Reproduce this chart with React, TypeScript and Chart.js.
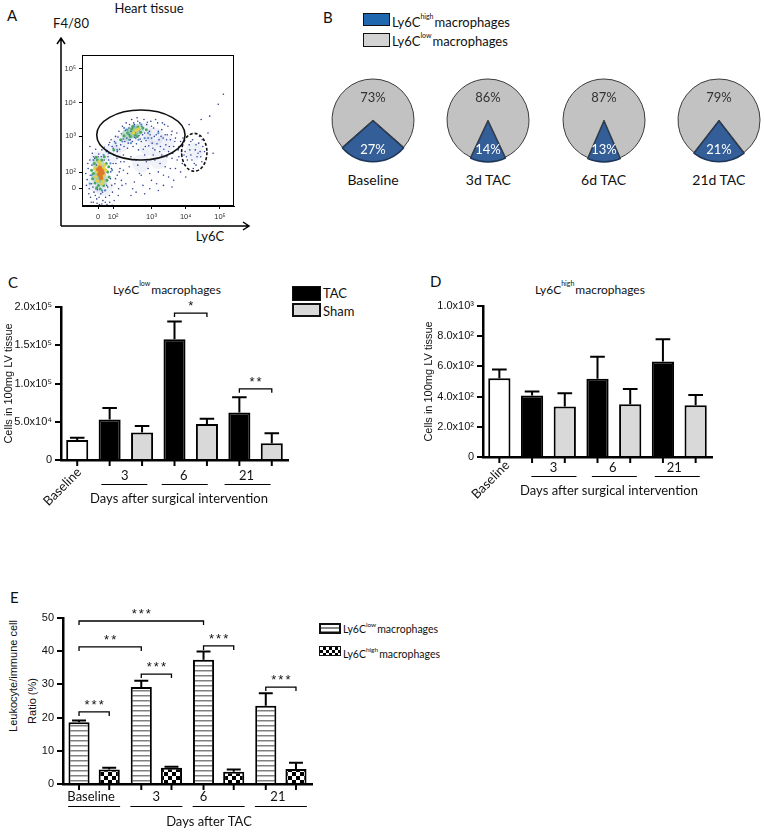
import React, { useEffect, useRef } from 'react';
import { Chart, registerables } from 'chart.js';

Chart.register(...registerables);

const SANS = '"Liberation Sans", Arial, sans-serif';
const CAL = 'Lato, "Open Sans", sans-serif';
const CAL_W = 400;

// ---------------- Panel A : flow cytometry (biexponential decade units) ----------------
const A_X_RANGE = [0.97, 5.41];
const A_Y_RANGE = [0.94, 5.41];
const A_X_TICKS = [1.44, 1.88, 3, 4, 5];
const A_Y_TICKS = [1.47, 1.94, 3, 4, 5];
const A_TICK_LABELS = ['0', '10²', '10³', '10⁴', '10⁵'];
// gates: [centerX, centerY, radiusX, radiusY]
const A_GATE_LOW = [2.69, 3.04, 1.29, 0.74];
const A_GATE_HIGH = [4.25, 2.53, 0.37, 0.56];

const A_EVENTS_PEAK = [[1.5, 1.95], [1.47, 1.88], [1.55, 2.0], [1.52, 1.82], [1.44, 2.02], [1.58, 1.92], [1.49, 2.08], [1.53, 1.76]];
const A_EVENTS_HIGH = [[1.4, 1.95], [1.6, 2.05], [1.45, 2.12], [1.55, 1.75], [1.38, 1.8], [1.62, 1.85], [1.5, 2.18], [1.35, 2.05], [1.58, 1.68], [1.66, 2.0], [1.42, 1.68], [1.63, 2.15], [1.47, 2.25], [1.56, 1.6], [2.55, 3.18], [2.48, 3.1], [2.62, 3.22]];
const A_EVENTS_MID = [[1.3, 1.9], [1.33, 2.2], [1.42, 2.3], [1.55, 2.3], [1.68, 2.2], [1.72, 1.95], [1.7, 1.7], [1.6, 1.55], [1.45, 1.55], [1.35, 1.62], [1.28, 1.75], [1.5, 1.45], [1.75, 2.1], [1.25, 2.0], [1.38, 2.38], [1.62, 2.4], [1.76, 1.8], [1.4, 1.48],
  [2.3, 3.1], [2.42, 3.22], [2.6, 3.28], [2.68, 3.12], [2.38, 3.0], [2.2, 3.02], [2.75, 3.25], [2.52, 3.05], [2.85, 3.2], [2.1, 2.9], [1.9, 2.6], [2.45, 3.3], [2.58, 3.0]];
const A_EVENTS_CYAN = [[1.3, 2.3], [1.6, 2.45], [1.75, 2.5], [1.8, 2.2], [1.38, 1.45], [1.65, 1.4], [1.25, 1.85], [2.0, 2.6], [2.15, 2.85], [2.28, 3.2], [2.5, 3.3], [2.7, 3.35], [2.9, 3.1], [2.62, 2.9], [2.4, 2.8], [3.0, 2.95], [3.2, 3.1], [2.2, 3.25], [1.95, 2.8], [2.8, 2.95], [1.2, 1.6], [1.85, 2.0], [1.55, 1.4], [2.35, 2.9]];
const A_EVENTS_LOW = [
  [1.12, 1.72], [1.15, 2.05], [1.18, 1.45], [1.2, 2.3], [1.22, 1.2], [1.25, 1.6], [1.27, 2.5], [1.3, 1.05], [1.32, 1.35], [1.34, 2.35], [1.37, 2.62], [1.4, 1.15], [1.42, 1.42], [1.46, 2.48], [1.48, 0.98], [1.52, 1.3], [1.55, 2.6], [1.58, 1.1], [1.6, 2.4], [1.63, 1.4], [1.66, 1.2], [1.68, 2.55], [1.72, 1.5], [1.75, 2.3], [1.78, 1.05], [1.8, 1.75], [1.83, 2.05], [1.86, 1.35], [1.9, 2.45], [1.93, 1.6], [1.96, 2.2], [2.0, 1.85], [2.04, 1.45], [2.08, 2.05], [2.12, 1.7], [1.2, 2.7],
  [1.75, 2.75], [1.82, 2.9], [1.88, 2.65], [1.95, 3.0], [2.0, 2.55], [2.05, 3.15], [2.1, 2.75], [2.15, 3.3], [2.18, 2.45], [2.22, 2.85], [2.26, 3.4], [2.3, 2.65], [2.34, 3.25], [2.38, 2.9], [2.42, 3.5], [2.46, 2.7], [2.5, 3.35], [2.54, 2.95], [2.58, 3.55], [2.62, 2.6], [2.66, 3.4], [2.7, 2.85], [2.74, 3.05], [2.78, 3.5], [2.82, 2.7], [2.86, 3.35], [2.9, 2.95], [2.94, 3.15], [2.98, 3.45], [3.02, 2.8], [3.06, 3.25], [3.1, 2.6], [3.14, 3.05], [3.18, 3.4], [3.22, 2.9], [3.26, 2.7], [3.3, 3.2], [3.34, 2.95], [3.38, 3.35], [3.42, 2.75], [3.46, 3.05], [3.5, 2.55], [3.55, 2.9], [3.6, 3.15], [3.65, 2.7], [3.7, 2.95], [3.78, 2.6], [3.85, 2.85], [2.52, 3.1], [2.35, 3.05], [2.65, 3.2], [2.45, 3.25],
  [2.2, 2.25], [2.3, 1.9], [2.4, 2.4], [2.5, 1.65], [2.6, 2.15], [2.7, 1.85], [2.8, 2.45], [2.9, 2.05], [3.0, 1.7], [3.1, 2.3], [3.2, 1.95], [3.3, 2.45], [3.4, 2.1], [3.5, 1.8], [3.6, 2.35], [3.7, 2.05], [3.8, 2.4], [3.9, 2.2], [2.55, 1.35], [2.95, 1.45], [3.35, 1.55],
  [3.98, 2.55], [4.05, 2.3], [4.1, 2.75], [4.15, 2.45], [4.2, 2.9], [4.25, 2.2], [4.28, 2.6], [4.33, 2.4], [4.38, 2.8], [4.42, 2.55], [4.47, 2.25], [4.5, 2.7], [4.22, 2.05], [4.4, 3.0],
  [4.1, 3.35], [4.45, 3.5], [4.7, 3.6], [4.95, 3.95], [5.1, 4.25], [4.65, 3.1], [4.8, 2.5]];
const A_EVENTS_LOW2 = [
  [1.62, 2.68], [1.7, 2.58], [1.78, 2.82], [1.85, 2.7], [1.92, 2.85], [1.98, 2.72], [2.02, 2.98], [2.07, 2.62], [2.12, 3.08], [2.17, 2.92], [2.2, 2.7], [2.24, 3.18], [2.28, 2.95], [2.32, 2.8], [2.36, 3.35], [2.4, 3.15], [2.44, 2.85], [2.48, 3.4], [2.5, 2.98], [2.56, 2.78], [2.6, 3.45], [2.63, 3.02], [2.67, 2.92], [2.72, 3.3], [2.76, 2.62], [2.8, 3.1], [2.84, 2.88], [2.88, 3.42], [2.92, 2.72], [2.96, 3.05], [3.0, 3.3], [3.04, 2.65], [3.08, 3.0], [3.12, 3.5], [3.16, 2.78], [3.2, 3.15], [3.24, 2.55], [3.28, 3.0], [3.32, 3.4], [3.36, 2.62], [3.4, 3.05], [3.44, 2.9], [3.48, 3.3], [3.52, 2.7], [3.58, 3.05], [3.62, 2.5], [3.68, 2.85], [3.74, 3.1], [3.8, 2.7], [3.88, 2.5], [3.92, 2.95],
  [1.08, 1.9], [1.1, 1.55], [1.14, 2.2], [1.17, 1.3], [1.21, 1.85], [1.24, 1.05], [1.26, 2.15], [1.29, 1.5], [1.31, 2.4], [1.36, 1.25], [1.39, 2.15], [1.41, 1.02], [1.44, 2.4], [1.47, 1.2], [1.53, 2.4], [1.57, 1.35], [1.62, 2.3], [1.65, 1.05], [1.69, 1.55], [1.73, 2.4], [1.77, 1.25], [1.81, 1.95], [1.84, 1.55], [1.88, 2.2], [1.91, 1.1], [1.95, 1.75], [1.99, 2.35], [2.03, 1.25], [2.06, 1.95], [2.1, 2.25], [2.14, 1.55], [2.18, 2.0], [1.7, 0.98], [1.55, 1.0], [1.85, 0.96],
  [2.25, 1.6], [2.35, 2.1], [2.45, 1.45], [2.55, 2.3], [2.65, 1.9], [2.75, 1.55], [2.85, 2.25], [2.95, 1.9], [3.05, 2.45], [3.15, 1.6], [3.25, 2.2], [3.35, 1.85], [3.45, 2.4], [3.55, 2.05], [3.65, 1.7], [3.75, 2.3], [3.85, 1.95], [3.95, 2.45], [2.4, 1.25], [2.8, 1.3], [3.2, 1.4], [3.6, 1.5], [4.0, 1.8],
  [4.02, 2.4], [4.12, 2.6], [4.18, 2.3], [4.3, 2.75], [4.36, 2.5], [4.44, 2.4], [4.3, 2.15], [4.48, 2.9], [4.55, 2.55], [4.15, 2.85]];
const A_DENSITY_LOW = [[1.5, 1.9], [1.45, 2.3], [1.6, 1.5], [1.4, 1.6], [1.85, 2.5], [2.1, 2.8], [2.4, 3.05], [2.75, 3.15], [3.1, 3.0], [2.9, 2.7], [3.4, 2.8], [2.7, 2.2], [3.2, 2.3], [4.25, 2.55]];
const A_DENSITY_MID = [[1.5, 1.95], [1.45, 2.2], [1.55, 1.7], [1.42, 1.8], [2.45, 3.12], [2.6, 3.2], [2.3, 3.05]];

// ---------------- Panel B : pies ----------------
const PIE_LABELS = ['Baseline', '3d TAC', '6d TAC', '21d TAC'];
const PIE_HIGH = [27, 14, 13, 21];
const PIE_LOW = [73, 86, 87, 79];

// ---------------- Panel C : Ly6C low cells ----------------
const DAYS = ['3', '6', '21'];
const C_BASELINE_MEAN = 26000;
const C_BASELINE_SEM = 3000;
const C_TAC_MEAN = [53000, 158000, 62000];
const C_TAC_SEM = [15000, 23000, 20000];
const C_SHAM_MEAN = [36000, 47000, 22000];
const C_SHAM_SEM = [8500, 7000, 13000];
const C_Y_TICK_LABELS = ['0', '5.0x10⁴', '1.0x10⁵', '1.5x10⁵', '2.0x10⁵'];
const C_BRACKETS = [
  { from: 3, to: 4, y: 192000, text: '*' },
  { from: 5, to: 6, y: 93000, text: '**' },
];

// ---------------- Panel D : Ly6C high cells ----------------
const D_BASELINE_MEAN = 521;
const D_BASELINE_SEM = 59;
const D_TAC_MEAN = [407, 519, 633];
const D_TAC_SEM = [26, 145, 147];
const D_SHAM_MEAN = [334, 349, 343];
const D_SHAM_SEM = [88, 101, 68];
const D_Y_TICK_LABELS = ['0', '2.0x10²', '4.0x10²', '6.0x10²', '8.0x10²', '1.0x10³'];

// ---------------- Panel E : ratio ----------------
const E_GROUPS = ['Baseline', '3', '6', '21'];
const E_LOW_MEAN = [18.6, 29.2, 37.4, 23.6];
const E_LOW_SEM = [0.5, 1.9, 2.5, 3.7];
const E_HIGH_MEAN = [4.4, 4.9, 3.7, 4.5];
const E_HIGH_SEM = [0.5, 0.3, 0.7, 1.9];
// [dataset, index] references
const E_BRACKETS = [
  { from: [0, 0], to: [1, 0], y: 21.7, text: '***' },
  { from: [0, 0], to: [0, 1], y: 41.3, text: '**' },
  { from: [0, 0], to: [0, 2], y: 49.1, text: '***' },
  { from: [0, 1], to: [1, 1], y: 33.1, text: '***' },
  { from: [0, 2], to: [1, 2], y: 41.6, text: '***' },
  { from: [0, 3], to: [1, 3], y: 29.2, text: '***' },
];

// ======================================================================

const BAR_FILL: Record<string, string> = { base: '#ffffff', tac: '#000000', sham: '#d9d9d9' };

function buildSeries(bm: number, bs: number, tm: number[], ts: number[], sm: number[], ss: number[]) {
  const labels = ['Baseline'];
  const values = [bm];
  const sems = [bs];
  const kinds = ['base'];
  tm.forEach((v, i) => {
    labels.push('TAC ' + DAYS[i], 'Sham ' + DAYS[i]);
    values.push(v, sm[i]);
    sems.push(ts[i], ss[i]);
    kinds.push('tac', 'sham');
  });
  return { labels, values, sems, kinds };
}

const gatesPlugin = {
  id: 'gates',
  afterDatasetsDraw(chart: any) {
    const { ctx, chartArea: ca } = chart;
    const xs = chart.scales.x;
    const ys = chart.scales.y;
    ctx.save();
    [A_GATE_LOW, A_GATE_HIGH].forEach((g, gi) => {
      const cx = xs.getPixelForValue(g[0]);
      const cy = ys.getPixelForValue(g[1]);
      const rx = Math.abs(xs.getPixelForValue(g[0] + g[2]) - cx);
      const ry = Math.abs(ys.getPixelForValue(g[1] + g[3]) - cy);
      ctx.beginPath();
      ctx.setLineDash(gi === 1 ? [3, 2] : []);
      ctx.lineWidth = 1.6;
      ctx.strokeStyle = '#111';
      ctx.ellipse(cx, cy, rx, ry, 0, 0, Math.PI * 2);
      ctx.stroke();
    });
    ctx.setLineDash([]);
    ctx.lineWidth = 1;
    ctx.strokeStyle = '#000';
    ctx.strokeRect(ca.left + 0.5, ca.top + 0.5, ca.width - 1, ca.height - 1);
    const ax = ca.left - 21;
    const ay = ca.bottom + 20;
    ctx.lineWidth = 1.5;
    ctx.beginPath();
    ctx.moveTo(ax, ay);
    ctx.lineTo(ax, ca.top - 17);
    ctx.moveTo(ax, ay);
    ctx.lineTo(ca.right + 15, ay);
    ctx.moveTo(ax - 4, ca.top - 11);
    ctx.lineTo(ax, ca.top - 17);
    ctx.lineTo(ax + 4, ca.top - 11);
    ctx.moveTo(ca.right + 9, ay - 4);
    ctx.lineTo(ca.right + 15, ay);
    ctx.lineTo(ca.right + 9, ay + 4);
    ctx.stroke();
    ctx.restore();
  },
};

function configA() {
  const pts = (a: number[][]) => a.map(([x, y]) => ({ x, y }));
  const tickAxis = (ticks: number[], fitKey: 'height' | 'width', fit: number, range: number[]) => ({
    type: 'linear',
    min: range[0],
    max: range[1],
    afterBuildTicks: (s: any) => {
      s.ticks = ticks.map((value) => ({ value }));
    },
    ticks: {
      autoSkip: false,
      maxRotation: 0,
      font: { family: SANS, size: 7.5 },
      color: '#333',
      padding: 3,
      callback: (_v: any, i: number) => A_TICK_LABELS[i],
    },
    grid: { drawOnChartArea: false, tickLength: 3, color: '#000', lineWidth: 1 },
    border: { color: '#000', width: 1 },
    afterFit: (s: any) => {
      s[fitKey] = fit;
    },
  });
  const dot = (data: number[][], color: string, r: number) => ({ data: pts(data), backgroundColor: color, pointRadius: r, borderWidth: 0 });
  return {
    type: 'scatter',
    data: {
      datasets: [
        dot(A_EVENTS_PEAK, '#e0782a', 2),
        dot(A_EVENTS_HIGH, '#e3d143', 1.8),
        dot(A_EVENTS_MID, '#4aa85c', 1.5),
        dot(A_EVENTS_CYAN, '#4f8fc9', 1.1),
        dot(A_EVENTS_LOW, '#2e3d95', 0.8),
        dot(A_EVENTS_LOW2, '#3a4aa0', 0.8),
        dot(A_DENSITY_MID, 'rgba(70,165,110,0.3)', 6),
        dot(A_DENSITY_LOW, 'rgba(105,125,200,0.1)', 9),
      ],
    },
    options: {
      responsive: false,
      animation: false,
      events: [],
      layout: { padding: { top: 25, right: 26, left: 0, bottom: 0 } },
      plugins: { legend: { display: false }, tooltip: { enabled: false } },
      scales: {
        x: tickAxis(A_X_TICKS, 'height', 39, A_X_RANGE),
        y: tickAxis(A_Y_TICKS, 'width', 42, A_Y_RANGE),
      },
    },
    plugins: [gatesPlugin],
  };
}

const pieLabelPlugin = {
  id: 'pieLabels',
  afterDatasetsDraw(chart: any) {
    const { ctx } = chart;
    const meta = chart.getDatasetMeta(0);
    const data = chart.data.datasets[0].data;
    ctx.save();
    ctx.font = `${CAL_W} 13px ${CAL}`;
    ctx.textAlign = 'center';
    ctx.textBaseline = 'middle';
    meta.data.forEach((arc: any, i: number) => {
      const { x, y, startAngle, endAngle, outerRadius } = arc.getProps(['x', 'y', 'startAngle', 'endAngle', 'outerRadius'], true);
      const mid = (startAngle + endAngle) / 2;
      const f = i === 0 ? 0.73 : 0.55;
      ctx.fillStyle = i === 0 ? '#ffffff' : '#333333';
      ctx.fillText(data[i] + '%', x + Math.cos(mid) * outerRadius * f, y + Math.sin(mid) * outerRadius * f);
    });
    ctx.restore();
  },
};

function configPie(high: number, low: number) {
  return {
    type: 'pie',
    data: {
      labels: ['Ly6C high macrophages', 'Ly6C low macrophages'],
      datasets: [
        {
          data: [high, low],
          backgroundColor: ['#335e97', '#c2c2c2'],
          borderColor: ['#1d3558', '#3c3c3c'],
          borderWidth: [1.5, 1],
          offset: [3, 0],
        },
      ],
    },
    options: {
      responsive: false,
      animation: false,
      events: [],
      radius: 41,
      rotation: 180 * (1 - high / (high + low)),
      plugins: { legend: { display: false }, tooltip: { enabled: false } },
    },
    plugins: [pieLabelPlugin],
  };
}

type Ref2 = number[];
interface DecorCfg {
  sem: (number | null)[][];
  brackets: { from: Ref2; to: Ref2; y: number; text: string }[];
  groups: { text: string; bars: Ref2[] }[];
  labelDy: number;
  lineDy: number;
  labelDx: number[];
  lineDx: number[];
  lineHalf: number;
  rotated?: { text: string; bar: Ref2; dx: number; dy: number };
  title: { text: string; dx: number; dy: number };
}

function decorPlugin(cfg: DecorCfg) {
  return {
    id: 'decor',
    afterDatasetsDraw(chart: any) {
      const { ctx, chartArea: ca } = chart;
      const ys = chart.scales.y;
      const bar = (r: Ref2) => chart.getDatasetMeta(r[0]).data[r[1]];
      ctx.save();
      ctx.strokeStyle = '#000';
      ctx.fillStyle = '#111';
      chart.data.datasets.forEach((ds: any, d: number) => {
        chart.getDatasetMeta(d).data.forEach((el: any, i: number) => {
          const v = ds.data[i];
          const s = cfg.sem[d][i];
          ctx.lineWidth = 2;
          ctx.beginPath();
          ctx.moveTo(el.x, ca.bottom);
          ctx.lineTo(el.x, ca.bottom + 6);
          ctx.stroke();
          if (v == null || s == null) return;
          const y0 = ys.getPixelForValue(v);
          const y1 = ys.getPixelForValue(v + s);
          const half = el.width * 0.33;
          ctx.beginPath();
          ctx.moveTo(el.x, y0);
          ctx.lineTo(el.x, y1);
          ctx.moveTo(el.x - half, y1);
          ctx.lineTo(el.x + half, y1);
          ctx.stroke();
        });
      });
      ctx.lineWidth = 1.3;
      cfg.brackets.forEach((b) => {
        const x0 = bar(b.from).x;
        const x1 = bar(b.to).x;
        const y = ys.getPixelForValue(b.y);
        ctx.beginPath();
        ctx.moveTo(x0, y + 4);
        ctx.lineTo(x0, y);
        ctx.lineTo(x1, y);
        ctx.lineTo(x1, y + 4);
        ctx.stroke();
        ctx.font = `13px ${SANS}`;
        ctx.textAlign = 'center';
        ctx.textBaseline = 'alphabetic';
        (ctx as any).letterSpacing = '2px';
        ctx.fillText(b.text, (x0 + x1) / 2 + 1, y - 3);
        (ctx as any).letterSpacing = '0px';
      });
      ctx.font = `${CAL_W} 13px ${CAL}`;
      ctx.textAlign = 'center';
      ctx.textBaseline = 'middle';
      ctx.lineWidth = 1;
      cfg.groups.forEach((g, gi) => {
        const els = g.bars.map(bar);
        const left = Math.min(...els.map((e: any) => e.x));
        const right = Math.max(...els.map((e: any) => e.x));
        const mid = (left + right) / 2;
        ctx.fillText(g.text, mid + cfg.labelDx[gi], ca.bottom + cfg.labelDy);
        const ly = Math.round(ca.bottom + cfg.lineDy) + 0.5;
        ctx.beginPath();
        ctx.moveTo(mid + cfg.lineDx[gi] - cfg.lineHalf, ly);
        ctx.lineTo(mid + cfg.lineDx[gi] + cfg.lineHalf, ly);
        ctx.stroke();
      });
      if (cfg.rotated) {
        const el = bar(cfg.rotated.bar);
        ctx.save();
        ctx.translate(el.x + cfg.rotated.dx, ca.bottom + cfg.rotated.dy);
        ctx.rotate(-Math.PI / 4);
        ctx.textAlign = 'right';
        ctx.fillText(cfg.rotated.text, 0, 0);
        ctx.restore();
      }
      ctx.textAlign = 'center';
      ctx.fillText(cfg.title.text, (ca.left + ca.right) / 2 + cfg.title.dx, ca.bottom + cfg.title.dy);
      ctx.restore();
    },
  };
}

function yAxis(o: { max: number; step: number; labels?: string[]; width: number; title?: string; titlePad?: number }) {
  return {
    min: 0,
    max: o.max,
    ticks: {
      stepSize: o.step,
      autoSkip: false,
      font: { family: SANS, size: 11 },
      color: '#111',
      padding: 3,
      ...(o.labels ? { callback: (_v: any, i: number) => o.labels![i] } : {}),
    },
    grid: { drawOnChartArea: false, tickLength: 6, color: '#000', lineWidth: 2 },
    border: { color: '#000', width: 2.5 },
    title: {
      display: !!o.title,
      text: o.title || '',
      font: { family: SANS, size: 11 },
      color: '#111',
      padding: { top: o.titlePad || 0, bottom: 0 },
    },
    afterFit: (s: any) => {
      s.width = o.width;
    },
  };
}

function xAxis(height: number) {
  return {
    grid: { display: false },
    ticks: { display: false },
    border: { color: '#000', width: 2.5 },
    afterFit: (s: any) => {
      s.height = height;
    },
  };
}

function configCD(which: 'C' | 'D') {
  const isC = which === 'C';
  const s = isC
    ? buildSeries(C_BASELINE_MEAN, C_BASELINE_SEM, C_TAC_MEAN, C_TAC_SEM, C_SHAM_MEAN, C_SHAM_SEM)
    : buildSeries(D_BASELINE_MEAN, D_BASELINE_SEM, D_TAC_MEAN, D_TAC_SEM, D_SHAM_MEAN, D_SHAM_SEM);
  const groups = DAYS.map((d, i) => ({ text: d, bars: [[0, 1 + 2 * i], [0, 2 + 2 * i]] }));
  const decor = decorPlugin({
    sem: [s.sems],
    brackets: isC ? C_BRACKETS.map((b) => ({ from: [0, b.from], to: [0, b.to], y: b.y, text: b.text })) : [],
    groups,
    labelDy: isC ? 16 : 11,
    lineDy: isC ? 24 : 19,
    labelDx: isC ? [-1, -7, -9] : [5, -1, -5],
    lineDx: isC ? [-1.5, -6, -8] : [5.5, 0.5, -2],
    lineHalf: isC ? 23 : 22.5,
    rotated: { text: 'Baseline', bar: [0, 0], dx: isC ? 2 : 8, dy: isC ? 10 : 6 },
    title: { text: 'Days after surgical intervention', dx: isC ? 4.5 : 11.5, dy: isC ? 39 : 34 },
  });
  return {
    type: 'bar',
    data: {
      labels: s.labels,
      datasets: [
        {
          data: s.values,
          backgroundColor: s.kinds.map((k) => BAR_FILL[k]),
          borderColor: '#000',
          borderWidth: 2,
          categoryPercentage: 1,
          barPercentage: 0.68,
        },
      ],
    },
    options: {
      responsive: false,
      animation: false,
      events: [],
      layout: { padding: isC ? { top: 22, right: 12, left: 0, bottom: 0 } : { top: 21, right: 18, left: 40, bottom: 0 } },
      plugins: { legend: { display: false }, tooltip: { enabled: false } },
      scales: {
        x: xAxis(isC ? 55 : 58),
        y: isC
          ? yAxis({ max: 200000, step: 50000, labels: C_Y_TICK_LABELS, width: 61, title: 'Cells in 100mg LV tissue', titlePad: 2 })
          : yAxis({ max: 1000, step: 200, labels: D_Y_TICK_LABELS, width: 63, title: 'Cells in 100mg LV tissue', titlePad: 2 }),
      },
    },
    plugins: [decor],
  };
}

function configE(canvas: HTMLCanvasElement) {
  const ctx = canvas.getContext('2d')!;
  const sc = document.createElement('canvas');
  sc.width = 4;
  sc.height = 5;
  const sg = sc.getContext('2d')!;
  sg.fillStyle = '#fff';
  sg.fillRect(0, 0, 4, 5);
  sg.fillStyle = '#808080';
  sg.fillRect(0, 0, 4, 1.5);
  const stripes = ctx.createPattern(sc, 'repeat');
  const cc = document.createElement('canvas');
  cc.width = 8;
  cc.height = 8;
  const cg = cc.getContext('2d')!;
  cg.fillStyle = '#fff';
  cg.fillRect(0, 0, 8, 8);
  cg.fillStyle = '#000';
  cg.fillRect(0, 0, 4, 4);
  cg.fillRect(4, 4, 4, 4);
  const checker = ctx.createPattern(cc, 'repeat');
  const decor = decorPlugin({
    sem: [E_LOW_SEM, E_HIGH_SEM],
    brackets: E_BRACKETS,
    groups: E_GROUPS.map((g, i) => ({ text: g, bars: [[0, i], [1, i]] })),
    labelDy: 13,
    lineDy: 22,
    labelDx: [-3, 0, -15, -3],
    lineDx: [0, 0, 0, 0],
    lineHalf: 26,
    title: { text: 'Days after TAC', dx: 21.5, dy: 38 },
  });
  return {
    type: 'bar',
    data: {
      labels: E_GROUPS,
      datasets: [
        { label: 'Ly6C low macrophages', data: E_LOW_MEAN, backgroundColor: stripes, borderColor: '#000', borderWidth: 2, categoryPercentage: 0.97, barPercentage: 0.7 },
        { label: 'Ly6C high macrophages', data: E_HIGH_MEAN, backgroundColor: checker, borderColor: '#000', borderWidth: 2, categoryPercentage: 0.97, barPercentage: 0.7 },
      ],
    },
    options: {
      responsive: false,
      animation: false,
      events: [],
      layout: { padding: { top: 18, right: 18, left: 0, bottom: 0 } },
      plugins: { legend: { display: false }, tooltip: { enabled: false } },
      scales: {
        x: xAxis(49),
        y: yAxis({ max: 50, step: 10, width: 63 }),
      },
    },
    plugins: [decor],
  };
}

function ChartBox({ left, top, width, height, config }: { left: number; top: number; width: number; height: number; config: (c: HTMLCanvasElement) => any }) {
  const ref = useRef<HTMLCanvasElement>(null);
  useEffect(() => {
    const chart = new Chart(ref.current as HTMLCanvasElement, config(ref.current as HTMLCanvasElement));
    return () => chart.destroy();
  }, []);
  return <canvas ref={ref} width={width} height={height} style={{ position: 'absolute', left, top, width, height }} />;
}

function Txt({ x, y, size = 13, family = CAL, align = 'left', children, style }: any) {
  const tx = align === 'center' ? '-50%' : align === 'right' ? '-100%' : '0';
  return (
    <div style={{ position: 'absolute', left: x, top: y, transform: `translate(${tx}, -50%)`, fontFamily: family, fontWeight: family === CAL ? CAL_W : 400, fontSize: size, lineHeight: 1, whiteSpace: 'nowrap', color: '#111', ...style }}>
      {children}
    </div>
  );
}

function Sup({ children, size = 7, up = 8 }: any) {
  return <span style={{ fontSize: size, position: 'relative', top: -up, marginRight: 1 }}>{children}</span>;
}

function Box({ x, y, w, h, bg, border = '1.5px solid #111' }: any) {
  return <div style={{ position: 'absolute', left: x, top: y, width: w, height: h, background: bg, border, boxSizing: 'border-box' }} />;
}

export default function App() {
  return (
    <div style={{ position: 'fixed', left: 0, top: 0, width: 764, height: 833, background: '#fff', overflow: 'hidden' }}>
      {/* Panel A */}
      <Txt x={7} y={15} size={15}>A</Txt>
      <Txt x={149} y={8} size={13} align="center">Heart tissue</Txt>
      <Txt x={71} y={23} size={13} align="center">F4/80</Txt>
      <Txt x={210} y={236} size={13} align="center">Ly6C</Txt>
      <ChartBox left={40} top={30} width={220} height={215} config={configA} />

      {/* Panel B */}
      <Txt x={323} y={17} size={15}>B</Txt>
      <Box x={363} y={13} w={27} h={13} bg="#1f68b0" />
      <Box x={363} y={33} w={27} h={14} bg="#d3d3d3" />
      <Txt x={392} y={22} size={13}>Ly6C<Sup up={8}>high</Sup>macrophages</Txt>
      <Txt x={392} y={41} size={13}>Ly6C<Sup up={8}>low</Sup>macrophages</Txt>
      {PIE_LABELS.map((lab, i) => (
        <React.Fragment key={lab}>
          <ChartBox left={323 + i * 115.3} top={70} width={100} height={100} config={() => configPie(PIE_HIGH[i], PIE_LOW[i])} />
          <Txt x={373 + i * 115.3} y={180} size={14} align="center">{lab}</Txt>
        </React.Fragment>
      ))}

      {/* Panel C */}
      <Txt x={8} y={282} size={15}>C</Txt>
      <Txt x={113} y={290} size={12}>Ly6C<Sup up={8}>low</Sup>macrophages</Txt>
      <Box x={292} y={286} w={29} h={15} bg="#000" />
      <Box x={292} y={303} w={29} h={14} bg="#d9d9d9" border="2px solid #111" />
      <Txt x={323} y={293} size={13}>TAC</Txt>
      <Txt x={323} y={311} size={13}>Sham</Txt>
      <ChartBox left={0} top={285} width={300} height={230} config={() => configCD('C')} />

      {/* Panel D */}
      <Txt x={430} y={281} size={15}>D</Txt>
      <Txt x={535} y={290} size={12}>Ly6C<Sup up={8}>high</Sup>macrophages</Txt>
      <ChartBox left={380} top={285} width={350} height={230} config={() => configCD('D')} />

      {/* Panel E */}
      <Txt x={10} y={597} size={15}>E</Txt>
      <div style={{ position: 'absolute', left: 13, top: 676, transform: 'translate(-50%, -50%) rotate(-90deg)', fontFamily: SANS, fontSize: 11, whiteSpace: 'nowrap', color: '#111' }}>Leukocyte/immune cell</div>
      <div style={{ position: 'absolute', left: 32, top: 701, transform: 'translate(-50%, -50%) rotate(-90deg)', fontFamily: SANS, fontSize: 11, whiteSpace: 'nowrap', color: '#111' }}>Ratio (%)</div>
      <Box x={319} y={623} w={22} h={11} bg="repeating-linear-gradient(#fff 0 2px, #888 2px 3.5px)" border="2px solid #111" />
      <Box x={319} y={646} w={22} h={10} bg="repeating-conic-gradient(#000 0 25%, #fff 0 50%) 0 0 / 6px 6px" border="1.5px solid #111" />
      <Txt x={343} y={629} size={10.5}>Ly6C<Sup size={6.5} up={6}>low</Sup>macrophages</Txt>
      <Txt x={343} y={654} size={10.5}>Ly6C<Sup size={6.5} up={6}>high</Sup>macrophages</Txt>
      <ChartBox left={0} top={600} width={330} height={233} config={configE} />
    </div>
  );
}
